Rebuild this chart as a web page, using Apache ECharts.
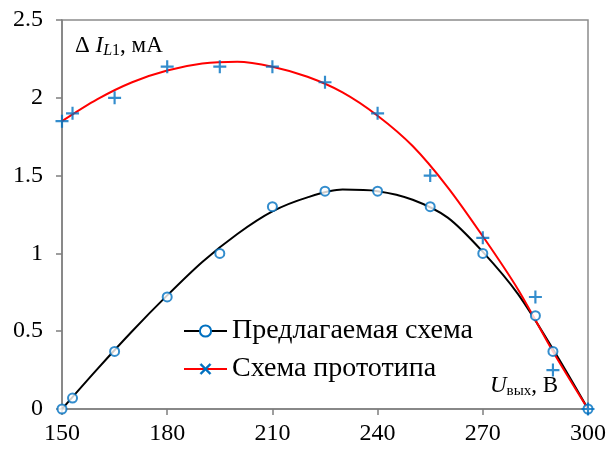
<!DOCTYPE html>
<html>
<head>
<meta charset="utf-8">
<script src="https://cdn.jsdelivr.net/npm/echarts@6/dist/echarts.min.js"></script>
<style>
    html, body { margin: 0; padding: 0; background: #fff; }
    #chart { width: 611px; height: 457px; }
</style>
</head>
<body>
<div id="chart"></div>
<script>
// 数据点（标记）
const xPoints = [150, 153, 165, 180, 195, 210, 225, 240, 255, 270, 285, 290, 300];
const proposedPoints = [0, 0.07, 0.37, 0.72, 1.0, 1.3, 1.4, 1.4, 1.3, 1.0, 0.6, 0.37, 0];
const prototypePoints = [1.85, 1.9, 2.0, 2.2, 2.2, 2.2, 2.1, 1.9, 1.5, 1.1, 0.72, 0.25, 0];

// 趋势曲线
const xCurve = [150, 160, 170, 180, 190, 200, 210, 220, 230, 240, 250, 260, 270, 280, 290, 300];
const proposedCurve = [0, 0.255, 0.50, 0.73, 0.945, 1.125, 1.27, 1.36, 1.41, 1.40, 1.345, 1.23, 1.01, 0.74, 0.385, 0];
const prototypeCurve = [1.85, 1.99, 2.10, 2.175, 2.22, 2.232, 2.20, 2.135, 2.035, 1.885, 1.69, 1.425, 1.11, 0.77, 0.37, 0];

const xTicks = [150, 180, 210, 240, 270, 300];
const yTicks = [0, 0.5, 1, 1.5, 2, 2.5];

const names = ['Предлагаемая схема', 'Схема прототипа'];

const FONT = "'Liberation Serif', 'Times New Roman', serif";
const BLUE = '#0070c0';
const PLUS = 'path://M5,0H7V5H12V7H7V12H5V7H0V5H5Z';
const CROSS = 'path://M0,1.5L1.5,0L6,4.5L10.5,0L12,1.5L7.5,6L12,10.5L10.5,12L6,7.5L1.5,12L0,10.5L4.5,6Z';

function pairs(xs, ys) {
    return xs.map((x, i) => [x, ys[i]]);
}

const chart = echarts.init(document.getElementById('chart'));

const option = {
    animation: false,
    grid: {
        left: 62,
        right: 23,
        top: 20,
        bottom: 48,
        show: true,
        borderColor: '#8c8c8c',
        borderWidth: 1.5
    },
    xAxis: {
        type: 'value',
        min: xTicks[0],
        max: xTicks[xTicks.length - 1],
        interval: 30,
        axisLine: { lineStyle: { color: '#7f7f7f', width: 1.5 } },
        axisTick: { show: true, inside: false, length: 6, lineStyle: { color: '#7f7f7f', width: 1.5 } },
        axisLabel: { color: '#000', fontFamily: FONT, fontSize: 24, margin: 13 },
        splitLine: { show: false }
    },
    yAxis: {
        type: 'value',
        min: yTicks[0],
        max: yTicks[yTicks.length - 1],
        interval: 0.5,
        axisLine: { show: true, lineStyle: { color: '#7f7f7f', width: 1.5 } },
        axisTick: { show: true, inside: false, length: 6, lineStyle: { color: '#7f7f7f', width: 1.5 } },
        axisLabel: { color: '#000', fontFamily: FONT, fontSize: 24, margin: 19 },
        splitLine: { show: false }
    },
    legend: {
        orient: 'vertical',
        left: 183,
        top: 317,
        padding: 0,
        itemWidth: 43,
        itemHeight: 14,
        itemGap: 10,
        textStyle: { fontFamily: FONT, fontSize: 28, color: '#000', lineHeight: 28 },
        data: [
            { name: names[0], itemStyle: { color: BLUE } },
            { name: names[1], itemStyle: { color: BLUE, borderColor: BLUE, borderWidth: 0.5 } }
        ]
    },
    graphic: [
        {
            type: 'text',
            left: 75,
            top: 34,
            style: {
                text: '{n|Δ }{i|I}{si|L}{s|1}{n|, мА}',
                fill: '#000',
                rich: {
                    n: { fontFamily: FONT, fontSize: 23, lineHeight: 26 },
                    i: { fontFamily: FONT, fontSize: 23, fontStyle: 'italic', lineHeight: 26 },
                    si: { fontFamily: FONT, fontSize: 16, fontStyle: 'italic', lineHeight: 16, verticalAlign: 'bottom' },
                    s: { fontFamily: FONT, fontSize: 16, lineHeight: 16, verticalAlign: 'bottom' }
                }
            }
        },
        {
            type: 'text',
            left: 490,
            top: 374,
            style: {
                text: '{i|U}{s|вых}{n|, В}',
                fill: '#000',
                rich: {
                    n: { fontFamily: FONT, fontSize: 23, lineHeight: 26 },
                    i: { fontFamily: FONT, fontSize: 23, fontStyle: 'italic', lineHeight: 26 },
                    s: { fontFamily: FONT, fontSize: 15, lineHeight: 15, verticalAlign: 'bottom' }
                }
            }
        }
    ],
    series: [
        {
            name: names[0],
            type: 'line',
            smooth: 0.3,
            showSymbol: false,
            symbol: 'emptyCircle',
            lineStyle: { color: '#000', width: 2 },
            itemStyle: { color: BLUE },
            data: pairs(xCurve, proposedCurve),
            z: 2
        },
        {
            name: names[1],
            type: 'line',
            smooth: 0.3,
            showSymbol: false,
            symbol: CROSS,
            lineStyle: { color: '#ff0000', width: 2 },
            itemStyle: { color: BLUE },
            data: pairs(xCurve, prototypeCurve),
            z: 2
        },
        {
            name: 'proposed-points',
            type: 'scatter',
            symbol: 'emptyCircle',
            symbolSize: 9,
            itemStyle: { color: BLUE, borderColor: BLUE, borderWidth: 2 },
            data: pairs(xPoints, proposedPoints),
            z: 3
        },
        {
            name: 'prototype-points',
            type: 'scatter',
            symbol: PLUS,
            symbolSize: 13,
            itemStyle: { color: BLUE },
            data: pairs(xPoints, prototypePoints),
            z: 4
        }
    ]
};

chart.setOption(option);
</script>
</body>
</html>
